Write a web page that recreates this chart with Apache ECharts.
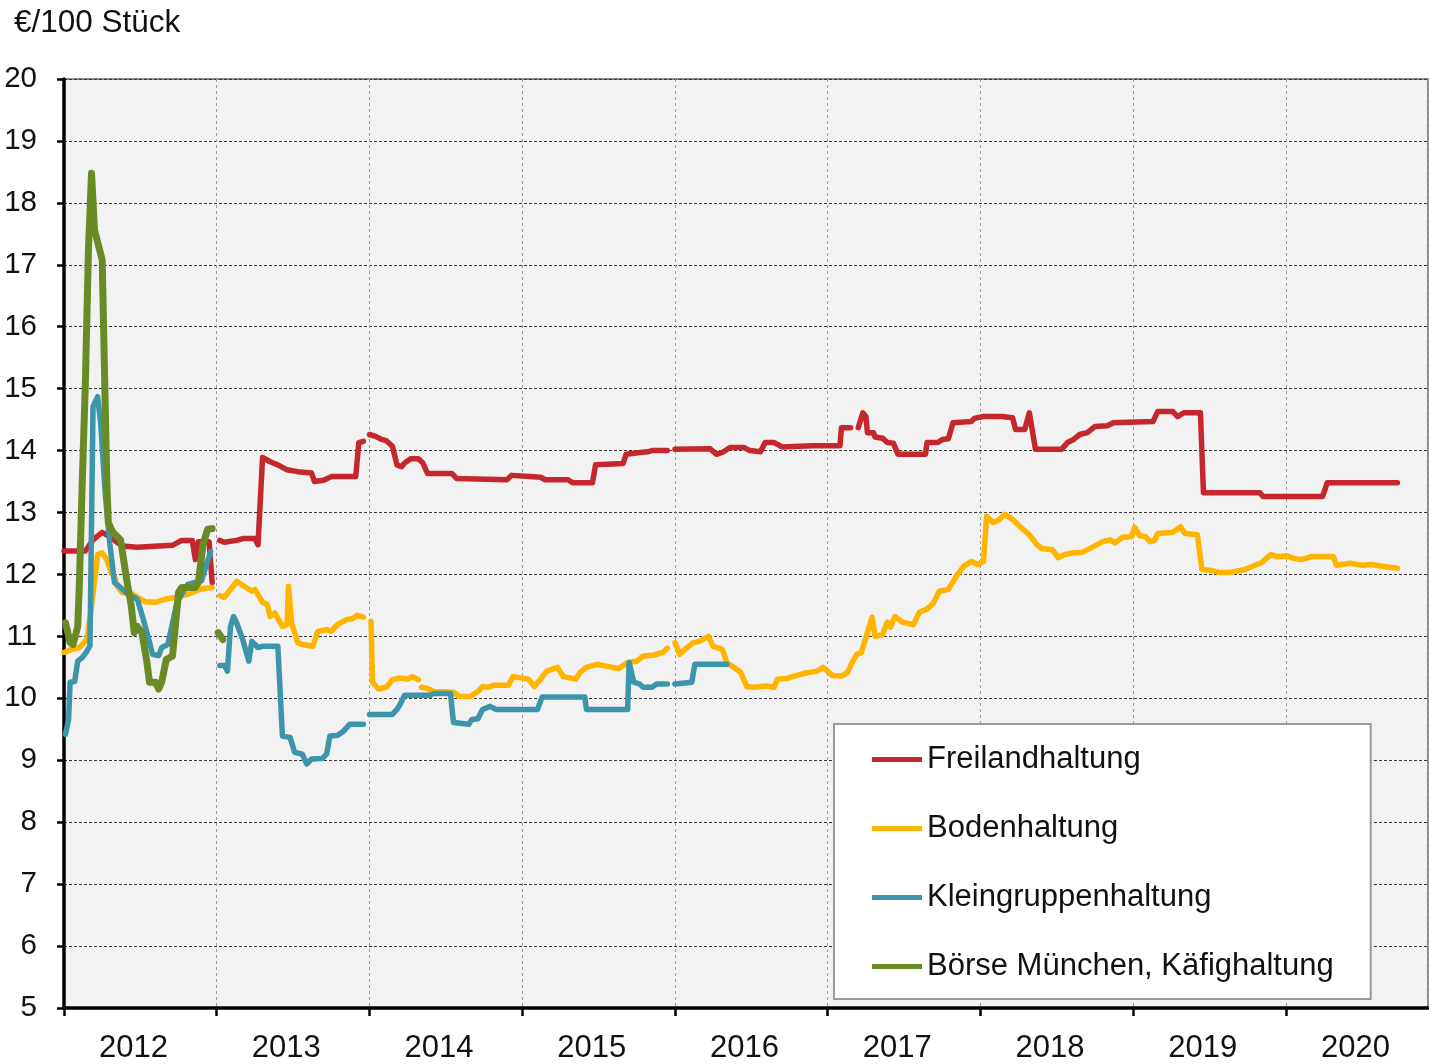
<!DOCTYPE html>
<html>
<head>
<meta charset="utf-8">
<title>Eierpreise</title>
<script src="https://cdn.jsdelivr.net/npm/echarts@6/dist/echarts.min.js"></script>
<style>
  html, body { margin: 0; padding: 0; background: #fff; }
  #chart { width: 1429px; height: 1064px; }
</style>
</head>
<body>
<div id="chart"></div>
<script>
  // x = Jahr als Dezimalzahl, y = €/100 Stück ; null = Lücke in der Reihe
  const yearTicks = [2012, 2013, 2014, 2015, 2016, 2017, 2018, 2019, 2020];

  const freiland = [
    [2012.00,12.38],[2012.14,12.38],[2012.19,12.56],[2012.25,12.68],[2012.30,12.61],[2012.38,12.46],[2012.48,12.44],[2012.71,12.47],[2012.77,12.55],[2012.84,12.55],[2012.86,12.24],[2012.88,12.53],[2012.95,12.53],[2012.97,11.87],
    [2012.99,null],
    [2013.02,12.55],[2013.05,12.52],[2013.13,12.55],[2013.17,12.58],[2013.25,12.58],[2013.27,12.48],[2013.30,13.89],[2013.35,13.82],[2013.40,13.77],[2013.46,13.69],[2013.53,13.66],[2013.62,13.64],[2013.64,13.50],[2013.70,13.52],[2013.75,13.58],[2013.91,13.58],[2013.93,14.13],[2013.96,14.15],
    [2013.98,null],
    [2014.00,14.26],[2014.04,14.23],[2014.08,14.18],[2014.11,14.16],[2014.15,14.07],[2014.18,13.77],[2014.21,13.74],[2014.23,13.80],[2014.27,13.87],[2014.32,13.87],[2014.35,13.80],[2014.38,13.63],[2014.54,13.63],[2014.57,13.55],[2014.90,13.53],[2014.93,13.60],[2015.05,13.58],[2015.12,13.57],[2015.15,13.53],[2015.30,13.53],[2015.33,13.48],[2015.46,13.48],[2015.48,13.77],[2015.66,13.79],[2015.68,13.94],[2015.77,13.97],[2015.82,13.98],[2015.85,14.00],[2015.95,14.00],
    [2015.97,null],
    [2016.00,14.02],[2016.23,14.03],[2016.27,13.94],[2016.31,13.97],[2016.36,14.05],[2016.45,14.05],[2016.49,14.00],[2016.56,13.98],[2016.59,14.13],[2016.65,14.13],[2016.70,14.06],[2016.90,14.08],[2017.08,14.08],[2017.09,14.37],[2017.15,14.37],
    [2017.17,null],
    [2017.20,14.37],[2017.23,14.61],[2017.25,14.55],[2017.26,14.29],[2017.30,14.29],[2017.31,14.22],[2017.36,14.20],[2017.39,14.13],[2017.43,14.12],[2017.46,13.94],[2017.64,13.94],[2017.65,14.13],[2017.72,14.13],[2017.75,14.18],[2017.79,14.19],[2017.82,14.45],[2017.94,14.47],[2017.96,14.52],[2018.02,14.55],[2018.14,14.55],[2018.21,14.53],[2018.23,14.34],[2018.29,14.34],[2018.32,14.61],[2018.36,14.02],[2018.53,14.02],[2018.57,14.13],[2018.61,14.18],[2018.65,14.26],[2018.70,14.29],[2018.75,14.39],[2018.83,14.40],[2018.87,14.45],[2019.13,14.47],[2019.16,14.63],[2019.26,14.63],[2019.29,14.55],[2019.33,14.61],[2019.44,14.61],[2019.46,13.32],[2019.83,13.32],[2019.85,13.26],[2020.24,13.26],[2020.27,13.48],[2020.73,13.48]
  ];

  const boden = [
    [2012.00,10.74],[2012.05,10.79],[2012.10,10.82],[2012.15,10.95],[2012.18,11.48],[2012.22,12.32],[2012.25,12.35],[2012.28,12.24],[2012.31,12.03],[2012.33,11.97],[2012.35,11.81],[2012.38,11.71],[2012.45,11.68],[2012.53,11.56],[2012.60,11.55],[2012.66,11.60],[2012.73,11.63],[2012.81,11.68],[2012.86,11.73],[2012.90,11.77],[2012.97,11.79],
    [2012.99,null],
    [2013.02,11.66],[2013.05,11.63],[2013.10,11.79],[2013.13,11.89],[2013.18,11.81],[2013.23,11.73],[2013.25,11.76],[2013.30,11.55],[2013.33,11.52],[2013.35,11.32],[2013.38,11.38],[2013.43,11.16],[2013.46,11.19],[2013.47,11.81],[2013.49,11.22],[2013.53,10.90],[2013.56,10.87],[2013.63,10.84],[2013.66,11.08],[2013.72,11.11],[2013.75,11.08],[2013.79,11.19],[2013.85,11.27],[2013.89,11.29],[2013.92,11.34],[2013.96,11.31],
    [2013.98,null],
    [2014.01,11.24],[2014.02,10.26],[2014.06,10.15],[2014.11,10.18],[2014.15,10.30],[2014.20,10.33],[2014.25,10.31],[2014.28,10.35],[2014.32,10.30],
    [2014.33,null],
    [2014.34,10.18],[2014.38,10.16],[2014.42,10.11],[2014.55,10.10],[2014.59,10.03],[2014.66,10.03],[2014.71,10.11],[2014.74,10.19],[2014.78,10.18],[2014.81,10.21],[2014.91,10.21],[2014.94,10.35],[2014.99,10.33],[2015.04,10.31],[2015.08,10.19],[2015.12,10.31],[2015.16,10.44],[2015.23,10.50],[2015.27,10.35],[2015.35,10.31],[2015.38,10.42],[2015.42,10.50],[2015.49,10.55],[2015.55,10.52],[2015.63,10.48],[2015.69,10.58],[2015.75,10.60],[2015.79,10.68],[2015.86,10.70],[2015.92,10.74],[2015.95,10.81],
    [2015.97,null],
    [2016.00,10.90],[2016.03,10.71],[2016.08,10.82],[2016.12,10.90],[2016.16,10.92],[2016.22,11.00],[2016.25,10.84],[2016.31,10.79],[2016.34,10.58],[2016.43,10.42],[2016.47,10.19],[2016.51,10.18],[2016.60,10.20],[2016.65,10.18],[2016.67,10.31],[2016.73,10.32],[2016.77,10.35],[2016.84,10.40],[2016.93,10.44],[2016.97,10.50],[2017.03,10.37],[2017.09,10.36],[2017.13,10.42],[2017.16,10.58],[2017.19,10.71],[2017.22,10.74],[2017.24,10.90],[2017.29,11.31],[2017.31,11.00],[2017.36,11.03],[2017.39,11.23],[2017.41,11.15],[2017.44,11.32],[2017.49,11.23],[2017.56,11.19],[2017.60,11.39],[2017.65,11.44],[2017.69,11.53],[2017.73,11.73],[2017.79,11.76],[2017.85,12.00],[2017.89,12.13],[2017.94,12.21],[2017.98,12.16],[2018.02,12.21],[2018.04,12.94],[2018.08,12.84],[2018.11,12.86],[2018.16,12.97],[2018.21,12.89],[2018.26,12.77],[2018.32,12.64],[2018.37,12.48],[2018.40,12.42],[2018.47,12.40],[2018.51,12.27],[2018.55,12.32],[2018.61,12.35],[2018.67,12.36],[2018.74,12.45],[2018.80,12.53],[2018.85,12.56],[2018.88,12.51],[2018.93,12.60],[2018.99,12.61],[2019.01,12.76],[2019.04,12.63],[2019.08,12.61],[2019.11,12.53],[2019.14,12.55],[2019.16,12.66],[2019.26,12.68],[2019.31,12.77],[2019.34,12.66],[2019.42,12.64],[2019.45,12.08],[2019.50,12.07],[2019.57,12.03],[2019.63,12.03],[2019.73,12.08],[2019.81,12.16],[2019.84,12.19],[2019.90,12.32],[2019.94,12.29],[2020.01,12.30],[2020.05,12.26],[2020.10,12.24],[2020.17,12.29],[2020.31,12.29],[2020.33,12.15],[2020.42,12.18],[2020.50,12.15],[2020.56,12.16],[2020.64,12.13],[2020.73,12.10]
  ];

  const kleingruppe = [
    [2012.01,9.42],[2012.03,9.66],[2012.04,10.26],[2012.07,10.27],[2012.09,10.60],[2012.12,10.66],[2012.15,10.76],[2012.17,10.85],[2012.19,14.71],[2012.22,14.87],[2012.24,14.45],[2012.27,13.30],[2012.30,12.50],[2012.33,11.87],[2012.37,11.79],[2012.42,11.68],[2012.48,11.60],[2012.52,11.27],[2012.55,11.00],[2012.58,10.71],[2012.62,10.69],[2012.64,10.82],[2012.68,10.87],[2012.74,11.55],[2012.77,11.68],[2012.81,11.84],[2012.86,11.87],[2012.90,11.90],[2012.96,12.37],
    [2012.99,null],
    [2013.02,10.53],[2013.05,10.53],[2013.07,10.44],[2013.09,11.16],[2013.11,11.32],[2013.13,11.22],[2013.17,10.95],[2013.18,10.98],[2013.21,10.60],[2013.23,10.92],[2013.27,10.82],[2013.30,10.84],[2013.40,10.84],[2013.43,9.39],[2013.48,9.37],[2013.51,9.13],[2013.56,9.10],[2013.59,8.94],[2013.62,9.02],[2013.69,9.03],[2013.72,9.10],[2013.74,9.39],[2013.79,9.40],[2013.83,9.47],[2013.87,9.58],[2013.96,9.58],
    [2013.98,null],
    [2014.00,9.74],[2014.15,9.74],[2014.18,9.82],[2014.20,9.90],[2014.23,10.05],[2014.40,10.05],
    [2014.41,null],
    [2014.42,10.08],[2014.53,10.08],[2014.55,9.61],[2014.65,9.58],[2014.67,9.66],[2014.71,9.67],[2014.74,9.82],[2014.79,9.87],[2014.83,9.82],[2015.10,9.82],[2015.13,10.02],[2015.41,10.02],[2015.42,9.82],[2015.69,9.82],[2015.70,10.58],[2015.73,10.26],[2015.77,10.23],[2015.79,10.18],[2015.85,10.18],[2015.88,10.23],[2015.95,10.23],
    [2015.97,null],
    [2016.00,10.23],[2016.11,10.26],[2016.13,10.55],[2016.34,10.55]
  ];

  const kaefig = [
    [2012.01,11.22],[2012.04,10.90],[2012.06,10.87],[2012.09,11.16],[2012.10,11.81],[2012.12,13.53],[2012.14,15.10],[2012.16,17.24],[2012.18,18.48],[2012.20,17.56],[2012.25,17.08],[2012.28,13.53],[2012.29,12.84],[2012.32,12.68],[2012.37,12.56],[2012.41,11.92],[2012.44,11.50],[2012.46,11.06],[2012.48,11.16],[2012.51,11.06],[2012.54,10.63],[2012.56,10.26],[2012.60,10.26],[2012.62,10.15],[2012.64,10.27],[2012.67,10.63],[2012.71,10.68],[2012.75,11.71],[2012.77,11.79],[2012.86,11.79],[2012.88,11.87],[2012.91,12.48],[2012.94,12.73],[2012.97,12.74],
    [2012.99,null],
    [2013.01,11.06],[2013.04,10.95]
  ];

  const FONT = '"Liberation Sans", Arial, sans-serif';

  const makeLine = (name, data, color, width) => ({
    name: name,
    type: 'line',
    data: data,
    showSymbol: false,
    symbol: 'none',
    connectNulls: false,
    lineStyle: { color: color, width: width, cap: 'round', join: 'round' },
    itemStyle: { color: color },
    emphasis: { disabled: true }
  });

  let option = {
    animation: false,
    backgroundColor: '#ffffff',
    title: {
      text: '€/100 Stück',
      left: 9,
      top: 2,
      textStyle: { fontFamily: FONT, fontSize: 31.5, fontWeight: 'normal', color: '#111' }
    },
    grid: {
      left: 64, right: 1, top: 79, bottom: 55,
      show: true,
      backgroundColor: '#f2f2f2',
      borderColor: '#8c8c8c',
      borderWidth: 2
    },
    legend: {
      orient: 'vertical',
      left: 834,
      top: 724,
      padding: [20, 37, 17, 38],
      itemGap: 38,
      itemWidth: 50,
      itemHeight: 5,
      icon: 'rect',
      backgroundColor: '#ffffff',
      borderColor: '#9a9a9a',
      borderWidth: 2,
      textStyle: { fontFamily: FONT, fontSize: 31, color: '#111', lineHeight: 31 },
      data: ['Freilandhaltung', 'Bodenhaltung', 'Kleingruppenhaltung', 'Börse München, Käfighaltung']
    },
    xAxis: {
      type: 'value',
      min: 2012,
      max: 2020.93,
      interval: 1,
      axisLine: { show: true, onZero: false, lineStyle: { color: '#000', width: 3.5 } },
      axisTick: { show: true, inside: false, length: 8, lineStyle: { color: '#000', width: 2.5 } },
      splitLine: { show: true, lineStyle: { color: '#9c9c9c', width: 1, type: [3, 3] } },
      axisLabel: {
        show: true,
        showMaxLabel: false,
        align: 'left',
        padding: [0, 0, 0, 35],
        margin: 25,
        fontFamily: FONT,
        fontSize: 31,
        color: '#111',
        formatter: v => (yearTicks.indexOf(Math.round(v)) >= 0 && Math.abs(v - Math.round(v)) < 1e-6) ? String(Math.round(v)) : ''
      }
    },
    yAxis: {
      type: 'value',
      min: 5,
      max: 20,
      interval: 1,
      axisLine: { show: true, onZero: false, lineStyle: { color: '#000', width: 3.5 } },
      axisTick: { show: true, inside: false, length: 7, lineStyle: { color: '#000', width: 2.5 } },
      splitLine: { show: true, lineStyle: { color: '#333', width: 1, type: [3, 2] } },
      axisLabel: { margin: 27, fontFamily: FONT, fontSize: 29.5, color: '#111' }
    },
    series: [
      makeLine('Freilandhaltung', freiland, '#c4282d', 5.5),
      makeLine('Bodenhaltung', boden, '#ffb400', 5.5),
      makeLine('Kleingruppenhaltung', kleingruppe, '#3c95ab', 5.5),
      makeLine('Börse München, Käfighaltung', kaefig, '#6a8a26', 7)
    ]
  };

  var myChart = echarts.init(document.getElementById('chart'), null, { renderer: 'canvas' });
  myChart.setOption(option, true);
</script>
</body>
</html>
